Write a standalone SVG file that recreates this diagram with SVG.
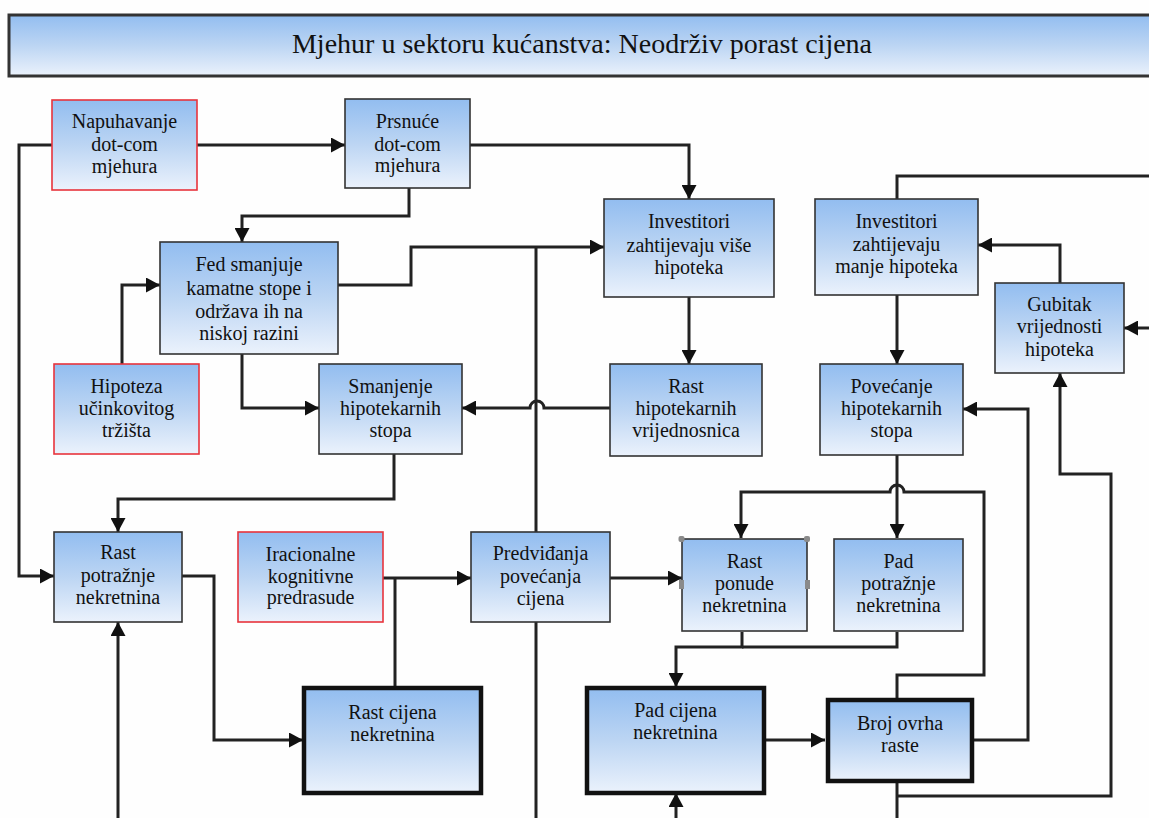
<svg xmlns="http://www.w3.org/2000/svg" width="1149" height="818" viewBox="0 0 1149 818">
<defs>
<linearGradient id="g" x1="0" y1="0" x2="0" y2="1">
<stop offset="0" stop-color="#92bdf0"/>
<stop offset="0.5" stop-color="#bcd5f3"/>
<stop offset="1" stop-color="#ebf2fc"/>
</linearGradient>
<marker id="a" markerUnits="userSpaceOnUse" markerWidth="15" markerHeight="15" refX="14" refY="7.5" orient="auto">
<path d="M0,0 L14,7.5 L0,15 z" fill="#111"/>
</marker>
</defs>
<style>
.n{fill:url(#g);stroke:#333;stroke-width:1.6}
.r{fill:url(#g);stroke:#e8343c;stroke-width:1.6}
.k{fill:url(#g);stroke:#111;stroke-width:4.5}
.t{font-family:'Liberation Serif','Times New Roman',serif;font-size:20px;fill:#111;text-anchor:middle}
.c path{fill:none;stroke:#222;stroke-width:3}
.h{fill:#8a8a8a}
</style>
<rect x="0" y="0" width="1149" height="818" fill="#fefefe"/>
<g id="title">
<rect x="9" y="15" width="1150" height="61" fill="url(#g)" stroke="#333" stroke-width="3"/>
<text x="582" y="53" font-family="Liberation Serif, Times New Roman, serif" font-size="28" fill="#111" text-anchor="middle">Mjehur u sektoru kućanstva: Neodrživ porast cijena</text>
</g>
<g class="c" id="connectors">
<path d="M197,145 H345" marker-end="url(#a)"/>
<path d="M52,145 H19 V576 H54" marker-end="url(#a)"/>
<path d="M409,188 V216 H242 V242" marker-end="url(#a)"/>
<path d="M470,145 H689 V199" marker-end="url(#a)"/>
<path d="M338,285 H411 V247 H604" marker-end="url(#a)"/>
<path d="M536,532 V247"/>
<path d="M122,364 V285 H160" marker-end="url(#a)"/>
<path d="M242,354 V408 H319" marker-end="url(#a)"/>
<path d="M610,408 H544 A7,7 0 0 0 530,408 H462" marker-end="url(#a)"/>
<path d="M394,454 V499 H118 V532" marker-end="url(#a)"/>
<path d="M689,297 V364" marker-end="url(#a)"/>
<path d="M897,295 V364" marker-end="url(#a)"/>
<path d="M897,455 V538" marker-end="url(#a)"/>
<path d="M897,698 V675 H984 V492 H904 A7,7 0 0 0 890,492 H741 V538" marker-end="url(#a)"/>
<path d="M742,632 V647 H676 V687" marker-end="url(#a)"/>
<path d="M897,632 V647 H742"/>
<path d="M610,578 H682" marker-end="url(#a)"/>
<path d="M383,578 H471" marker-end="url(#a)"/>
<path d="M395,687 V578"/>
<path d="M182,576 H214 V740 H303" marker-end="url(#a)"/>
<path d="M765,740 H825" marker-end="url(#a)"/>
<path d="M973,740 H1028 V409 H963" marker-end="url(#a)"/>
<path d="M897,782 V818"/>
<path d="M897,796 H1111 V474 H1060 V373" marker-end="url(#a)"/>
<path d="M1060,283 V245 H978" marker-end="url(#a)"/>
<path d="M897,199 V176 H1149"/>
<path d="M1149,328 H1124" marker-end="url(#a)"/>
<path d="M118,818 V622" marker-end="url(#a)"/>
<path d="M536,622 V818"/>
<path d="M676,818 V793" marker-end="url(#a)"/>
</g>
<g id="napuhavanje"><rect class="r" x="52" y="100" width="145" height="90"/>
<text class="t" x="124.5" y="128">Napuhavanje</text><text class="t" x="124.5" y="151">dot-com</text><text class="t" x="124.5" y="173">mjehura</text></g>
<g id="prsnuce"><rect class="n" x="345" y="99" width="125" height="89"/>
<text class="t" x="407.5" y="128">Prsnuće</text><text class="t" x="407.5" y="151">dot-com</text><text class="t" x="407.5" y="172">mjehura</text></g>
<g id="fed"><rect class="n" x="160" y="242" width="178" height="112"/>
<text class="t" x="249" y="271">Fed smanjuje</text><text class="t" x="249" y="295">kamatne stope i</text><text class="t" x="249" y="318">održava ih na</text><text class="t" x="249" y="340">niskoj razini</text></g>
<g id="inv-vise"><rect class="n" x="604" y="199" width="170" height="98"/>
<text class="t" x="689" y="228">Investitori</text><text class="t" x="689" y="252">zahtijevaju više</text><text class="t" x="689" y="274">hipoteka</text></g>
<g id="inv-manje"><rect class="n" x="815" y="199" width="163" height="96"/>
<text class="t" x="896.5" y="228">Investitori</text><text class="t" x="896.5" y="251">zahtijevaju</text><text class="t" x="896.5" y="273">manje hipoteka</text></g>
<g id="gubitak"><rect class="n" x="995" y="283" width="129" height="90"/>
<text class="t" x="1059.5" y="311">Gubitak</text><text class="t" x="1059.5" y="333">vrijednosti</text><text class="t" x="1059.5" y="356">hipoteka</text></g>
<g id="hipoteza"><rect class="r" x="54" y="364" width="145" height="90"/>
<text class="t" x="126.5" y="393">Hipoteza</text><text class="t" x="126.5" y="415">učinkovitog</text><text class="t" x="126.5" y="437">tržišta</text></g>
<g id="smanjenje"><rect class="n" x="319" y="364" width="143" height="90"/>
<text class="t" x="390.5" y="393">Smanjenje</text><text class="t" x="390.5" y="415">hipotekarnih</text><text class="t" x="390.5" y="437">stopa</text></g>
<g id="rast-vrijednosnica"><rect class="n" x="610" y="364" width="152" height="92"/>
<text class="t" x="686" y="393">Rast</text><text class="t" x="686" y="415">hipotekarnih</text><text class="t" x="686" y="437">vrijednosnica</text></g>
<g id="povecanje"><rect class="n" x="820" y="364" width="143" height="91"/>
<text class="t" x="891.5" y="393">Povećanje</text><text class="t" x="891.5" y="415">hipotekarnih</text><text class="t" x="891.5" y="437">stopa</text></g>
<g id="rast-potraznje"><rect class="n" x="54" y="532" width="128" height="90"/>
<text class="t" x="118" y="559">Rast</text><text class="t" x="118" y="582">potražnje</text><text class="t" x="118" y="604">nekretnina</text></g>
<g id="iracionalne"><rect class="r" x="238" y="532" width="145" height="90"/>
<text class="t" x="310.5" y="561">Iracionalne</text><text class="t" x="310.5" y="583">kognitivne</text><text class="t" x="310.5" y="604">predrasude</text></g>
<g id="predvidanja"><rect class="n" x="471" y="532" width="139" height="90"/>
<text class="t" x="540.5" y="560">Predviđanja</text><text class="t" x="540.5" y="583">povećanja</text><text class="t" x="540.5" y="605">cijena</text></g>
<g id="rast-ponude"><rect class="n" x="682" y="539" width="125" height="92"/>
<text class="t" x="744.5" y="568">Rast</text><text class="t" x="744.5" y="590">ponude</text><text class="t" x="744.5" y="612">nekretnina</text>
<rect class="h" x="678.5" y="536" width="6" height="6" rx="2"/><rect class="h" x="804" y="536" width="6" height="6" rx="2"/><rect class="h" x="805" y="580" width="5" height="9"/><rect class="h" x="679" y="580" width="5" height="9"/></g>
<g id="pad-potraznje"><rect class="n" x="834" y="539" width="129" height="92"/>
<text class="t" x="898.5" y="568">Pad</text><text class="t" x="898.5" y="590">potražnje</text><text class="t" x="898.5" y="612">nekretnina</text></g>
<g id="rast-cijena"><rect class="k" x="304" y="688" width="177" height="105"/>
<text class="t" x="392.5" y="719">Rast cijena</text><text class="t" x="392.5" y="741">nekretnina</text></g>
<g id="pad-cijena"><rect class="k" x="587" y="688" width="177" height="105"/>
<text class="t" x="675.5" y="717">Pad cijena</text><text class="t" x="675.5" y="739">nekretnina</text></g>
<g id="broj-ovrha"><rect class="k" x="828" y="700" width="144" height="81"/>
<text class="t" x="900" y="730">Broj ovrha</text><text class="t" x="900" y="752">raste</text></g>
</svg>
